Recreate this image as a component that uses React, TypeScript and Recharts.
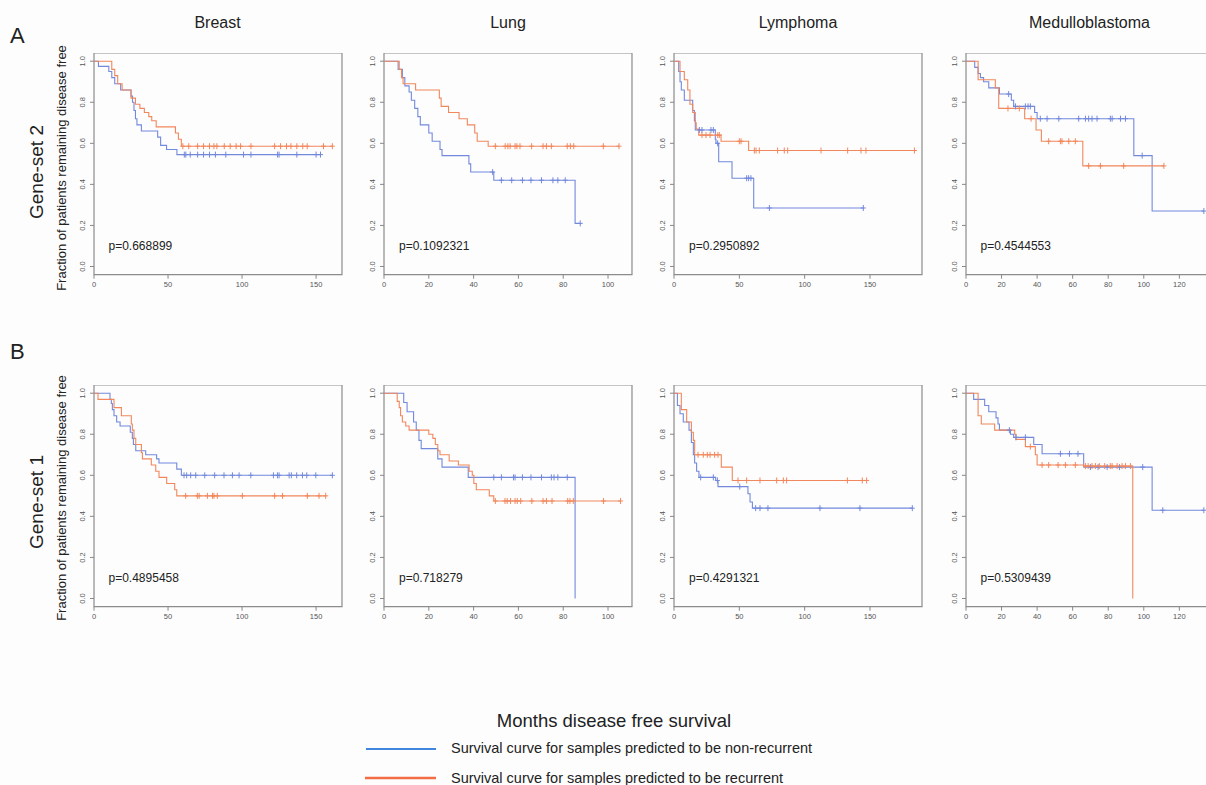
import React from "react";
import { ComposedChart, Line, XAxis, YAxis, ReferenceArea } from "recharts";

type Step = [number, number];

const cancers = ["Breast", "Lung", "Lymphoma", "Medulloblastoma"];
const xMaxByCancer = [167.5, 110.7, 189.8, 139.5];
const xTicksByCancer = [
  [0, 50, 100, 150],
  [0, 20, 40, 60, 80, 100],
  [0, 50, 100, 150],
  [0, 20, 40, 60, 80, 100, 120],
];
const yTicks = [0, 0.2, 0.4, 0.6, 0.8, 1.0];
const geneSets = ["Gene-set 2", "Gene-set 1"];
const rowLetters = ["A", "B"];

// p-values, row A then row B
const pValuesA = ["p=0.668899", "p=0.1092321", "p=0.2950892", "p=0.4544553"];
const pValuesB = ["p=0.4895458", "p=0.718279", "p=0.4291321", "p=0.5309439"];

// ---- Gene-set 2 (row A) ----
const aBreastNon: Step[] = [[0, 1], [3, 0.975], [10, 0.95], [12, 0.92], [14, 0.89], [18, 0.86], [25, 0.83], [26, 0.8], [27, 0.76], [28, 0.72], [29, 0.69], [32, 0.66], [43, 0.63], [45, 0.59], [49, 0.57], [56, 0.545]];
const aBreastNonCens = [61, 62, 65, 70, 74, 78, 82, 89, 101, 106, 124, 125, 137, 150, 153];
const aBreastRec: Step[] = [[0, 1], [12, 0.96], [14, 0.93], [16, 0.89], [19, 0.86], [25, 0.82], [28, 0.79], [31, 0.77], [34, 0.75], [37, 0.73], [39, 0.71], [42, 0.68], [55, 0.65], [57, 0.62], [59, 0.586]];
const aBreastRecCens = [60, 64, 70, 74, 78, 81, 83, 88, 92, 96, 99, 106, 122, 126, 130, 133, 137, 141, 144, 155, 161];

const aLungNon: Step[] = [[0, 1], [6.3, 0.96], [8.2, 0.92], [9.3, 0.88], [11.2, 0.85], [12.2, 0.81], [13.7, 0.77], [15.1, 0.73], [16.2, 0.69], [20, 0.65], [21.5, 0.61], [25, 0.57], [25.9, 0.54], [37.9, 0.5], [38.7, 0.46], [49, 0.42], [85.3, 0.21]];
const aLungNonCens = [48.5, 52.4, 57, 61.8, 65.6, 70.3, 75.4, 77.6, 80.9, 87.6];
const aLungRec: Step[] = [[0, 1], [6.8, 0.96], [7.8, 0.92], [8.5, 0.89], [14.1, 0.86], [24.7, 0.82], [25.5, 0.78], [28.8, 0.75], [33.5, 0.72], [37.2, 0.69], [40.5, 0.65], [41.6, 0.61], [46.5, 0.586]];
const aLungRecCens = [49.7, 54.1, 55.3, 56.3, 58.5, 59.3, 60.7, 65.9, 71, 72.5, 74.7, 81.8, 83.2, 84.7, 97.9, 104.9];

const aLymphNon: Step[] = [[0, 1], [3.6, 0.95], [4.6, 0.9], [5.6, 0.86], [7.9, 0.81], [14.3, 0.76], [15.6, 0.71], [16.3, 0.665], [31.6, 0.62], [32.1, 0.6], [34.2, 0.51], [44.4, 0.43], [61, 0.285]];
const aLymphNonCens = [19.4, 21.4, 28.3, 30.1, 33.4, 55.6, 57.1, 58.9, 73, 144.9];
const aLymphRec: Step[] = [[0, 1], [4.6, 0.95], [7.9, 0.91], [10.5, 0.86], [12.2, 0.79], [14.3, 0.75], [16.3, 0.7], [17, 0.67], [18.9, 0.64], [36, 0.61], [57.1, 0.565]];
const aLymphRecCens = [21.4, 24.5, 27.6, 33.5, 34.7, 50, 51.3, 61.5, 62.8, 65.3, 79.3, 84.4, 87, 112.5, 132.9, 143.1, 146.9, 184];

const aMedNon: Step[] = [[0, 1], [4.9, 0.97], [6.8, 0.94], [8.1, 0.92], [9.9, 0.9], [12.8, 0.87], [18.8, 0.84], [25.5, 0.81], [26.8, 0.78], [38.6, 0.75], [40, 0.72], [94.4, 0.54], [104.7, 0.27]];
const aMedNonCens = [24, 27.8, 33.4, 34.9, 36.2, 41.8, 45.6, 52.2, 63.4, 67.2, 69, 70.9, 73.7, 81.2, 82.2, 86.9, 89.7, 99.1, 133.8];
const aMedRec: Step[] = [[0, 1], [6.8, 0.91], [16.5, 0.87], [18.4, 0.77], [33, 0.72], [39.4, 0.665], [42.4, 0.61], [65.7, 0.49]];
const aMedRecCens = [23.6, 30, 36.6, 46.5, 53.1, 54, 57.8, 61.5, 69, 75.6, 88.7, 111.3];

// ---- Gene-set 1 (row B) ----
const bBreastNon: Step[] = [[0, 1], [10.8, 0.97], [11.7, 0.95], [12.4, 0.92], [13.5, 0.89], [15.3, 0.86], [17.6, 0.84], [24.5, 0.81], [25.9, 0.78], [26.6, 0.75], [28.2, 0.72], [34.9, 0.7], [42.3, 0.68], [43.9, 0.66], [55.9, 0.63], [59, 0.6]];
const bBreastNonCens = [60.8, 62.6, 65.3, 68.7, 74.8, 81.5, 87.8, 93.5, 98, 105.9, 121.2, 123.9, 125, 131.8, 133.3, 136.9, 140.8, 143.7, 149.8, 161];
const bBreastRec: Step[] = [[0, 1], [2.7, 0.97], [13.5, 0.93], [18.5, 0.89], [25.2, 0.85], [25.9, 0.82], [27, 0.78], [28.2, 0.75], [32, 0.71], [32.7, 0.68], [38.7, 0.65], [41.7, 0.62], [43.9, 0.59], [49.1, 0.56], [54.5, 0.53], [55.9, 0.5]];
const bBreastRecCens = [61.9, 69.8, 71, 76.6, 80, 81, 83.3, 100.2, 122, 127.3, 144.1, 152, 156.5];

const bLungNon: Step[] = [[0, 1], [8.8, 0.955], [10.3, 0.91], [13.2, 0.86], [14.4, 0.82], [15.6, 0.77], [16.6, 0.73], [24, 0.68], [25.9, 0.64], [37.6, 0.59], [85.3, 0]];
const bLungNonCens = [49, 52.4, 57.8, 58.5, 61.8, 65.6, 70.3, 74.7, 75.9, 77.6, 81.8];
const bLungRec: Step[] = [[0, 1], [5.9, 0.96], [6.8, 0.93], [7.4, 0.89], [8.2, 0.86], [9.7, 0.84], [11.2, 0.82], [20, 0.8], [21.8, 0.78], [22.9, 0.75], [24, 0.72], [25, 0.7], [29.1, 0.67], [33.2, 0.65], [38, 0.62], [39.4, 0.6], [40.1, 0.56], [41.2, 0.53], [47, 0.5], [49, 0.475]];
const bLungRecCens = [49.7, 54, 55, 56.5, 58.5, 59.5, 61, 66, 71, 72.5, 75, 82, 83, 84.5, 98, 105.6];

const bLymphNon: Step[] = [[0, 1], [2.6, 0.94], [4.6, 0.9], [7.1, 0.86], [11.5, 0.82], [13.3, 0.76], [14.8, 0.7], [15.8, 0.66], [17.3, 0.62], [19.1, 0.59], [31.9, 0.575], [33.7, 0.545], [56.6, 0.51], [58.2, 0.47], [60, 0.44]];
const bLymphNonCens = [20.4, 30.1, 33.2, 50.3, 62.5, 65.8, 71.9, 111.7, 142.3, 182.4];
const bLymphRec: Step[] = [[0, 1], [5.6, 0.92], [9.7, 0.86], [13.3, 0.81], [14.8, 0.77], [15.8, 0.7], [36.2, 0.64], [44.6, 0.575]];
const bLymphRecCens = [18.4, 22.4, 25.5, 27.6, 31.1, 33.7, 49, 55.6, 65.8, 78.6, 83.7, 86.2, 132.7, 144.1, 147.4];

const bMedNon: Step[] = [[0, 1], [4.3, 0.97], [10.5, 0.94], [12.8, 0.91], [16.9, 0.88], [18, 0.85], [18.8, 0.82], [25, 0.8], [26.8, 0.785], [38.1, 0.75], [42.8, 0.705], [66.2, 0.64], [104.7, 0.43]];
const bMedNonCens = [24.4, 28.1, 33.4, 53.1, 58.2, 63, 70, 74.3, 79.4, 86.3, 99.4, 110.7, 133.8];
const bMedRec: Step[] = [[0, 1], [6.8, 0.89], [8.6, 0.85], [16.1, 0.82], [27.4, 0.8], [28.1, 0.775], [33.4, 0.74], [39, 0.7], [40, 0.65], [66.2, 0.645], [93.8, 0]];
const bMedRecCens = [36.2, 42.8, 46.5, 51.8, 55.9, 61.5, 67.2, 68.7, 70.9, 72.8, 75, 78, 81.2, 82.2, 85, 87.8, 89.7, 92.5];

const BLUE = "#7289dc";
const ORANGE = "#f2875c";
const FONT = "'Liberation Sans', Arial, sans-serif";

const PLOT_LEFT = [93.5, 384, 674, 965.5];
const PLOT_TOP = [53.3, 385.3];
const PW = 248;
const PH = 221.7;
const YW = 30;
const XH = 24;

type Pt = { t: number; s: number; c: boolean };

function buildCurve(steps: Step[], cens: number[]): Pt[] {
  const valueAt = (t: number) => {
    let s = 1;
    for (const [st, sv] of steps) if (st <= t) s = sv;
    return s;
  };
  const pts: Pt[] = [
    ...steps.map(([t, s]) => ({ t, s, c: false })),
    ...cens.map((t) => ({ t, s: valueAt(t), c: true })),
  ];
  pts.sort((a, b) => a.t - b.t || (a.c ? 1 : 0) - (b.c ? 1 : 0));
  return pts;
}

const plusDot = (color: string) => (props: any) => {
  const { cx, cy, payload, index } = props;
  if (!payload || !payload.c || cx == null || cy == null) return <g key={`d${index}`} />;
  return (
    <g key={`d${index}`}>
      <line x1={cx - 2.5} x2={cx + 2.5} y1={cy} y2={cy} stroke={color} strokeWidth={1} />
      <line x1={cx} x2={cx} y1={cy - 3} y2={cy + 3} stroke={color} strokeWidth={1} />
    </g>
  );
};

const YTick = (props: any) => {
  const { x, y, payload } = props;
  const tx = x - 3;
  return (
    <text x={tx} y={y} transform={`rotate(-90, ${tx}, ${y})`} textAnchor="middle" fontSize={7.5} fill="#555" fontFamily={FONT}>
      {Number(payload.value).toFixed(1)}
    </text>
  );
};

type PanelProps = {
  col: number;
  row: number;
  non: Pt[];
  rec: Pt[];
  p: string;
};

function Panel({ col, row, non, rec, p }: PanelProps) {
  const left = PLOT_LEFT[col];
  const top = PLOT_TOP[row];
  const xMax = xMaxByCancer[col];
  return (
    <div style={{ position: "absolute", left: left - YW, top }}>
      <ComposedChart width={YW + PW + 4} height={PH + XH} margin={{ top: 0, right: 4, bottom: 0, left: 0 }}>
        <XAxis
          dataKey="t"
          type="number"
          domain={[0, xMax]}
          ticks={xTicksByCancer[col]}
          allowDataOverflow
          axisLine={false}
          tickSize={4}
          tickMargin={3}
          interval={0}
          height={XH}
          stroke="#888"
          tick={{ fontSize: 7.5, fill: "#555", fontFamily: FONT }}
        />
        <YAxis
          type="number"
          domain={[-0.04, 1.04]}
          ticks={yTicks}
          allowDataOverflow
          axisLine={false}
          tickSize={4}
          interval={0}
          width={YW}
          stroke="#888"
          tick={<YTick />}
        />
        <ReferenceArea x1={0} x2={xMax} y1={-0.04} y2={1.04} fill="none" fillOpacity={0} stroke="#8c8c8c" strokeWidth={1.2} ifOverflow="visible" />
        <Line data={non} dataKey="s" type="stepAfter" stroke={BLUE} strokeWidth={1.1} dot={plusDot(BLUE)} activeDot={false} isAnimationActive={false} />
        <Line data={rec} dataKey="s" type="stepAfter" stroke={ORANGE} strokeWidth={1.1} dot={plusDot(ORANGE)} activeDot={false} isAnimationActive={false} />
      </ComposedChart>
      <div
        style={{
          position: "absolute",
          left: YW + 15,
          top: 186,
          fontFamily: FONT,
          fontSize: 12,
          color: "#222",
          lineHeight: "14px",
          whiteSpace: "nowrap",
        }}
      >
        {p}
      </div>
    </div>
  );
}

const rowA = [
  { non: buildCurve(aBreastNon, aBreastNonCens), rec: buildCurve(aBreastRec, aBreastRecCens) },
  { non: buildCurve(aLungNon, aLungNonCens), rec: buildCurve(aLungRec, aLungRecCens) },
  { non: buildCurve(aLymphNon, aLymphNonCens), rec: buildCurve(aLymphRec, aLymphRecCens) },
  { non: buildCurve(aMedNon, aMedNonCens), rec: buildCurve(aMedRec, aMedRecCens) },
];
const rowB = [
  { non: buildCurve(bBreastNon, bBreastNonCens), rec: buildCurve(bBreastRec, bBreastRecCens) },
  { non: buildCurve(bLungNon, bLungNonCens), rec: buildCurve(bLungRec, bLungRecCens) },
  { non: buildCurve(bLymphNon, bLymphNonCens), rec: buildCurve(bLymphRec, bLymphRecCens) },
  { non: buildCurve(bMedNon, bMedNonCens), rec: buildCurve(bMedRec, bMedRecCens) },
];

export default function App() {
  return (
    <div
      style={{
        position: "fixed",
        left: 0,
        top: 0,
        width: 1206,
        height: 785,
        overflow: "hidden",
        background: "#fdfdfd",
      }}
    >
      <svg width={1206} height={785} style={{ position: "absolute", left: 0, top: 0 }} fontFamily={FONT}>
        {cancers.map((c, i) => (
          <text key={c} x={PLOT_LEFT[i] + PW / 2} y={28} textAnchor="middle" fontSize={16} fill="#222">
            {c}
          </text>
        ))}
        {rowLetters.map((l, r) => (
          <text key={l} x={10} y={r === 0 ? 43 : 359} fontSize={22} fill="#222">
            {l}
          </text>
        ))}
        {geneSets.map((g, r) => {
          const cy = r === 0 ? 172 : 502;
          return (
            <g key={g}>
              <text x={43} y={cy} transform={`rotate(-90, 43, ${cy})`} textAnchor="middle" fontSize={19} fill="#222">
                {g}
              </text>
              <text x={66} y={cy - 4} transform={`rotate(-90, 66, ${cy - 4})`} textAnchor="middle" fontSize={13} fill="#222">
                Fraction of patients remaining disease free
              </text>
            </g>
          );
        })}
        <text x={614} y={727} textAnchor="middle" fontSize={18.5} fill="#222">
          Months disease free survival
        </text>
        <line x1={366} x2={436} y1={749} y2={749} stroke="#3f86dc" strokeWidth={2} />
        <text x={451} y={753} fontSize={14.5} fill="#222">
          Survival curve for samples predicted to be non-recurrent
        </text>
        <line x1={365} x2={436} y1={778} y2={778} stroke="#f26d45" strokeWidth={2.5} />
        <text x={451} y={783} fontSize={14.5} fill="#222">
          Survival curve for samples predicted to be recurrent
        </text>
      </svg>
      {rowA.map((d, i) => (
        <Panel key={`a${i}`} col={i} row={0} non={d.non} rec={d.rec} p={pValuesA[i]} />
      ))}
      {rowB.map((d, i) => (
        <Panel key={`b${i}`} col={i} row={1} non={d.non} rec={d.rec} p={pValuesB[i]} />
      ))}
    </div>
  );
}
